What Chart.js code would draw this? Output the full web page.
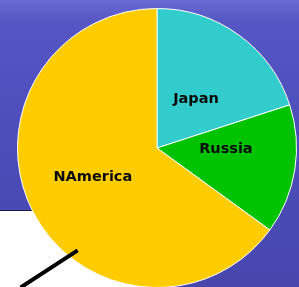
<!DOCTYPE html>
<html>
<head>
<meta charset="utf-8">
<script src="https://cdn.jsdelivr.net/npm/chart.js@4"></script>
<style>
  html, body { margin: 0; padding: 0; }
  body {
    width: 299px; height: 287px; overflow: hidden; position: relative;
    background: linear-gradient(#6a6ad2 0px, #5656c4 22px, #4d4dba 140px, #4747ae 287px);
  }
  #hoja { position: absolute; left: 0; top: 210px; width: 155px; height: 80px;
          background: #fff; border-top: 1px solid #1a1a40; }
  #caja { position: absolute; left: 17px; top: 8px; width: 280px; height: 280px; }
  #raya { position: absolute; left: 14.5px; top: 267px; width: 68px; height: 3.5px;
          background: #000; transform: rotate(-33deg); }
</style>
</head>
<body>
<div id="hoja"></div>
<div id="caja"><canvas id="pastel"></canvas></div>
<div id="raya"></div>
<script>
var regiones = ['Japan', 'Russia', 'NAmerica'];
var valores = [20, 15, 65];
var colores = ['#33cccc', '#00c300', '#ffcc00'];

// pequeños ajustes de donde cae cada etiqueta (px)
var ajusteEtiq = [[-2, 8], [0, -10], [-2, -2]];

var etiquetas = {
    id: 'etiquetas',
    afterDatasetsDraw: function(chart) {
        var ctx = chart.ctx;
        var arcos = chart.getDatasetMeta(0).data;
        ctx.save();
        ctx.font = 'bold 14.5px "DejaVu Sans", Verdana, sans-serif';
        ctx.fillStyle = '#0a0a0a';
        ctx.textAlign = 'center';
        ctx.textBaseline = 'middle';
        for (var i = 0; i < arcos.length; i++) {
            var a = arcos[i];
            var medio = (a.startAngle + a.endAngle) / 2;
            var r = a.outerRadius * 0.5;
            var x = a.x + Math.cos(medio) * r + ajusteEtiq[i][0];
            var y = a.y + Math.sin(medio) * r + ajusteEtiq[i][1];
            ctx.fillText(regiones[i], x, y);
        }
        ctx.restore();
    }
};

new Chart(document.getElementById('pastel'), {
    type: 'pie',
    data: {
        labels: regiones,
        datasets: [{
            data: valores,
            backgroundColor: colores,
            borderColor: '#ffffff',
            borderWidth: 1
        }]
    },
    options: {
        responsive: true,
        maintainAspectRatio: false,
        animation: false,
        layout: { padding: 0 },
        plugins: {
            legend: { display: false },
            tooltip: { enabled: false }
        }
    },
    plugins: [etiquetas]
});
</script>
</body>
</html>
